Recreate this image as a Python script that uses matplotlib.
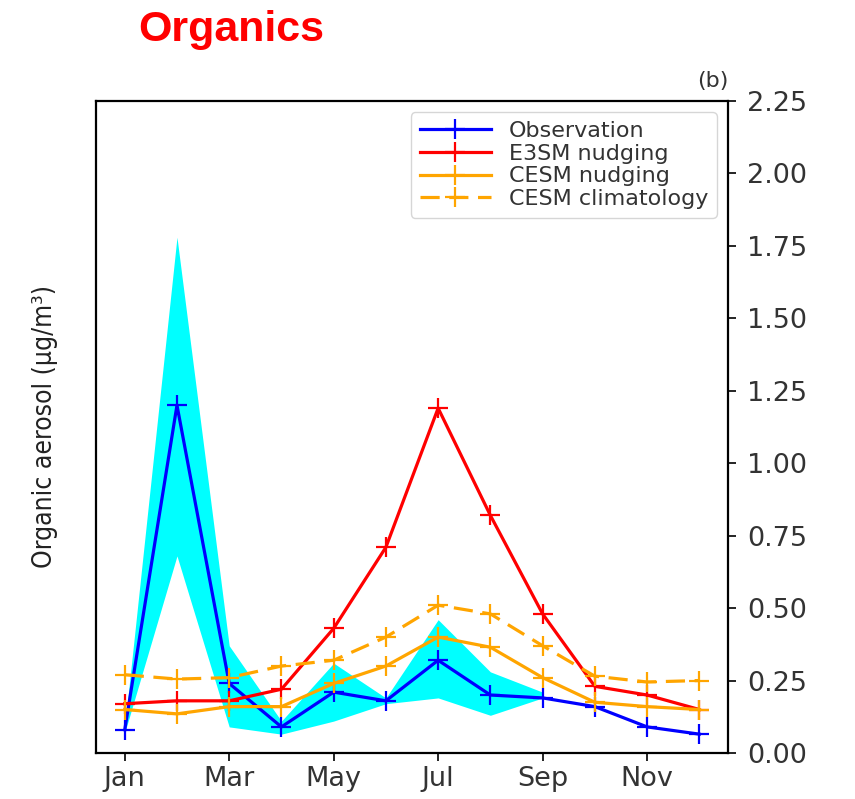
import numpy as np
import matplotlib
matplotlib.use("Agg")
import matplotlib.pyplot as plt

# monthly means, months 1..12
months = np.arange(1, 13)
obs = [0.08, 1.20, 0.24, 0.09, 0.21, 0.18, 0.32, 0.20, 0.19, 0.16, 0.09, 0.065]
e3sm_nudge = [0.17, 0.18, 0.18, 0.22, 0.43, 0.71, 1.19, 0.82, 0.48, 0.23, 0.20, 0.15]
cesm_nudge = [0.15, 0.135, 0.16, 0.16, 0.24, 0.30, 0.40, 0.365, 0.26, 0.175, 0.16, 0.15]
cesm_clim = [0.27, 0.255, 0.26, 0.30, 0.32, 0.40, 0.51, 0.48, 0.37, 0.265, 0.245, 0.25]

# observed range (only Jan-Sep available)
band_months = np.arange(1, 10)
obs_low = [0.07, 0.68, 0.09, 0.065, 0.11, 0.17, 0.19, 0.13, 0.19]
obs_high = [0.09, 1.78, 0.37, 0.11, 0.31, 0.19, 0.46, 0.28, 0.21]

tick_months = [1, 3, 5, 7, 9, 11]
tick_labels = ["Jan", "Mar", "May", "Jul", "Sep", "Nov"]
yticks = np.arange(0, 2.26, 0.25)

fig = plt.figure(figsize=(8.55, 7.99), dpi=100)
ax = fig.add_axes([0.1123, 0.0576, 0.7392, 0.8160])

ax.fill_between(band_months, obs_low, obs_high, color="cyan", linewidth=0)

mk = dict(marker="+", markersize=15, markeredgewidth=1.6, linewidth=2.3)
ax.plot(months, obs, color="blue", label="Observation", **mk)
ax.plot(months, e3sm_nudge, color="red", label="E3SM nudging", **mk)
ax.plot(months, cesm_nudge, color="orange", label="CESM nudging", **mk)
ax.plot(months, cesm_clim, color="orange", dashes=(6, 3),
        label="CESM climatology", **mk)

ax.set_ylim(0, 2.25)
ax.set_yticks(yticks)
ax.set_yticklabels([f"{v:.2f}" for v in yticks])
ax.set_xticks(tick_months)
ax.set_xticklabels(tick_labels)
ax.yaxis.tick_right()
ax.tick_params(axis="both", labelsize=19.5, length=6, width=1.2, colors="black")
ax.tick_params(axis="y", pad=8)
for lbl in ax.get_xticklabels() + ax.get_yticklabels():
    lbl.set_color("#333333")
for sp in ax.spines.values():
    sp.set_linewidth(1.6)

ax.set_ylabel("Organic aerosol (μg/m³)", fontsize=19, family="DejaVu Sans",
              fontstretch="condensed", color="#222222")
ax.yaxis.set_label_position("left")
ax.yaxis.set_label_coords(-0.06, 0.5)

ax.set_title("(b)", loc="right", fontsize=16, color="#333333", pad=10)

leg = ax.legend(loc="upper right", fontsize=16, handlelength=3.2,
                borderaxespad=0.5, labelspacing=0.12, borderpad=0.4)
for t in leg.get_texts():
    t.set_color("#333333")

fig.text(0.271, 0.962, "Organics", color="red", fontsize=31, fontweight="bold",
         family=["Liberation Sans", "DejaVu Sans"], ha="center", va="center")

fig.savefig("out.png", dpi=100)
